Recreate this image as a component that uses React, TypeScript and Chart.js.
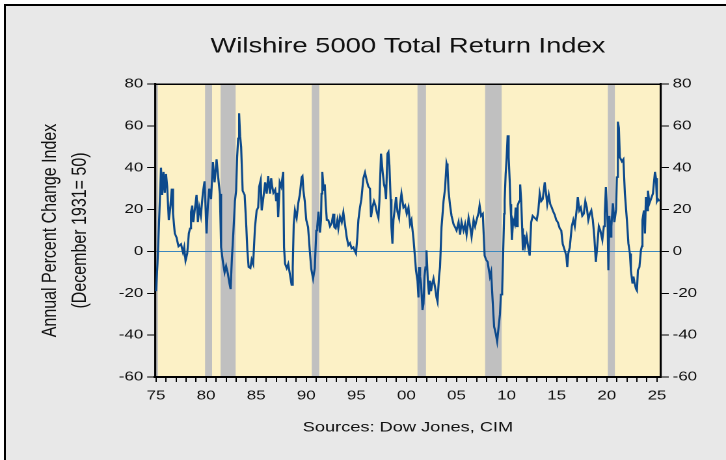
import React, { useEffect, useRef } from 'react';
import { Chart, registerables } from 'chart.js';

Chart.register(...registerables);

// ---- data: annual percent change of the Wilshire 5000 (decimal year, value) ----
const dates70s = [1975.00,1975.15,1975.30,1975.50,1975.62,1975.75,1975.88,1976.00,1976.12,1976.28,1976.42,1976.58,1976.70,1976.88,1977.05,1977.25,1977.50,1977.70,1977.82,1977.95,1978.12,1978.28,1978.40,1978.50,1978.62,1978.72,1978.85,1979.05,1979.18,1979.32,1979.48,1979.68,1979.85];
const values70s = [-19,-6,13,40,27,38,28,37,31,15,20.5,30,18,8.6,6.7,2.4,3.5,-0.5,2,-4.4,-1,8.6,11,18.9,21.9,14,19,27,14,21,17,28,33.5];

const dates80s = [1980.05,1980.18,1980.32,1980.50,1980.68,1980.85,1981.05,1981.22,1981.38,1981.50,1981.68,1981.85,1982.00,1982.18,1982.32,1982.45,1982.58,1982.72,1982.88,1983.00,1983.10,1983.20,1983.30,1983.40,1983.50,1983.65,1983.85,1984.02,1984.12,1984.25,1984.42,1984.55,1984.70,1984.88,1985.05,1985.20,1985.30,1985.45,1985.55,1985.70,1985.90,1986.05,1986.20,1986.38,1986.50,1986.60,1986.72,1986.90,1987.00,1987.10,1987.20,1987.35,1987.50,1987.70,1987.78,1987.88,1988.05,1988.20,1988.37,1988.54,1988.65,1988.75,1988.87,1989.04,1989.20,1989.37,1989.54,1989.62,1989.72,1989.85];
const values80s = [8.6,22,30,25,42.7,33,44,35,27.5,2,-5,-10,-7,-10.7,-15,-18,-3,8.7,24,29,45,54,66,55,50,29,27,11.6,0.5,-7.5,-8,-4,-6,11.6,19.6,21,31,34,19.6,25,33,27.6,36,27.6,35,31,28,29.5,24,28,16.4,33,31,38,2,-5.8,-8,-6,-11,-16,-7.5,13,19.6,16,23,27.6,35.5,36,29,24];

const dates90s = [1990.00,1990.18,1990.35,1990.50,1990.68,1990.85,1991.00,1991.10,1991.22,1991.37,1991.47,1991.52,1991.60,1991.75,1991.85,1991.95,1992.05,1992.20,1992.37,1992.54,1992.70,1992.80,1992.93,1993.10,1993.20,1993.37,1993.54,1993.70,1993.86,1994.03,1994.20,1994.36,1994.53,1994.70,1994.86,1994.96,1995.10,1995.20,1995.36,1995.50,1995.70,1995.86,1996.03,1996.20,1996.36,1996.46,1996.60,1996.76,1996.90,1997.03,1997.20,1997.30,1997.46,1997.63,1997.76,1997.86,1997.96,1998.10,1998.20,1998.30,1998.42,1998.50,1998.60,1998.70,1998.80,1998.96,1999.10,1999.26,1999.36,1999.50,1999.70,1999.86];
const values90s = [15,11.6,0.5,-8.4,-13,-8,10,12,19,9,15,27.6,38,29,32,22,15,15,12,13.5,18,11.6,11,15,11,16.5,14,18.6,13,7,3,4,1.4,2,0,-1,7,15,21,25,35,37.7,34,31,30,16.4,21,24,22,19,16,24,46.7,37.7,32,30,25,46.7,47.5,41,25,11.6,3.7,15,19,26,19,16,22.6,27.6,21,22];

const dates00s = [2000.03,2000.20,2000.36,2000.50,2000.70,2000.85,2000.95,2001.10,2001.20,2001.25,2001.36,2001.46,2001.60,2001.70,2001.80,2001.90,2002.00,2002.13,2002.25,2002.35,2002.45,2002.55,2002.70,2002.85,2003.00,2003.10,2003.25,2003.35,2003.50,2003.70,2003.85,2004.00,2004.10,2004.20,2004.35,2004.50,2004.70,2004.85,2005.00,2005.20,2005.35,2005.50,2005.70,2005.85,2006.00,2006.20,2006.35,2006.50,2006.70,2006.85,2007.00,2007.20,2007.30,2007.45,2007.62,2007.80,2007.95,2008.10,2008.33,2008.45,2008.60,2008.75,2008.90,2009.05,2009.20,2009.33,2009.43,2009.55,2009.65,2009.75,2009.80,2009.90];
const values00s = [18,21,13,15,6,-2.7,-9,-14,-22,-7.5,-12,-15.6,-28,-25,-12,-7.5,0.5,-14,-20.6,-14,-19,-16,-13,-17,-22,-24,-12,-7.5,11.6,24,30,42,40,29,22,17,13,11.6,10,14,8,14,10,13,8,16,12,7,15,12,15,18.5,22,17,18,-2,-4,-5,-12,-9.8,-23.4,-36,-39,-43,-36,-30,-20.6,-19,-1,18,24.4,37];

const dates10s = [2010.00,2010.10,2010.20,2010.30,2010.38,2010.45,2010.52,2010.65,2010.80,2010.90,2011.00,2011.10,2011.25,2011.35,2011.45,2011.55,2011.62,2011.75,2011.85,2012.00,2012.15,2012.30,2012.45,2012.60,2012.80,2013.00,2013.15,2013.30,2013.45,2013.60,2013.80,2013.90,2014.05,2014.20,2014.35,2014.50,2014.65,2014.80,2014.95,2015.10,2015.30,2015.45,2015.60,2015.80,2015.95,2016.05,2016.15,2016.30,2016.50,2016.65,2016.80,2017.00,2017.10,2017.25,2017.40,2017.55,2017.70,2017.85,2018.00,2018.15,2018.30,2018.45,2018.60,2018.75,2018.90,2019.05,2019.20,2019.35,2019.55,2019.70,2019.80,2019.90];
const values10s = [45,55.5,45,34,22.6,16,5.5,15,13,21,12,22,24,32,24,11,0.5,8,3,7,2,-2,14,17,16,15,19,27.7,24,25,33,29,22.6,27,22.6,21,19,17.5,15,14,11,10,3.5,0.5,-2,-7.5,-1,2,12,15,12,20.5,26,19.6,21,17,18,24,21,15,18,19.6,15,7,-5,3,12,10,5.5,12,18,30.8];

const dates20s = [2020.00,2020.08,2020.15,2020.25,2020.35,2020.45,2020.60,2020.75,2020.92,2021.00,2021.10,2021.20,2021.30,2021.50,2021.65,2021.80,2022.00,2022.15,2022.30,2022.40,2022.55,2022.65,2022.75,2022.90,2023.00,2023.10,2023.25,2023.40,2023.50,2023.55,2023.70,2023.80,2023.90,2024.00,2024.10,2024.25,2024.40,2024.60,2024.80,2024.90,2025.00,2025.10,2025.25];
const values20s = [21,13,-9,17,7,12,23,14,20,35.5,62,59,45,43,44,27.6,15,3.8,-1,-9,-15,-12,-14.6,-17.8,-18.7,-9,-7.5,0.5,2.5,15,19.6,8.6,26,19.6,29,23,25,27.7,38,35,24,25,24];

// recession shading (decimal years)
const recessionStarts = [1974.9, 1979.9, 1981.45, 1990.55, 2001.1, 2007.85, 2020.1];
const recessionEnds = [1975.2, 1980.6, 1982.95, 1991.3, 2001.95, 2009.5, 2020.8];

// axes
const yTickValues = [-60, -40, -20, 0, 20, 40, 60, 80];
const xFirstYear = 1975;
const xLastYear = 2025;
const xMin = 1974.9;
const xMax = 2025.4;

const TITLE = 'Wilshire 5000 Total Return Index';
const Y_TITLE = ['Annual Percent Change Index', '(December 1931= 50)'];
const SOURCE = 'Sources: Dow Jones, CIM';

const FONT = 'Arial, "Liberation Sans", Helvetica, sans-serif';
const INTERNAL_W = 558; // drawn narrower, then stretched to 726 like the reference
const CSS_W = 726;
const H = 460;

const allDates = [...dates70s, ...dates80s, ...dates90s, ...dates00s, ...dates10s, ...dates20s];
const allValues = [...values70s, ...values80s, ...values90s, ...values00s, ...values10s, ...values20s];

const backgroundPlugin = {
  id: 'plotBackground',
  beforeDraw(chart: any) {
    const { ctx, chartArea, scales } = chart;
    if (!chartArea) return;
    const { left, right, top, bottom } = chartArea;
    const x = scales.x;
    ctx.save();
    ctx.fillStyle = '#fcf1c6';
    ctx.fillRect(left, top, right - left, bottom - top);
    ctx.fillStyle = '#c0c0c0';
    recessionStarts.forEach((s, i) => {
      const x0 = Math.max(left, x.getPixelForValue(s));
      const x1 = Math.min(right, x.getPixelForValue(recessionEnds[i]));
      if (x1 > x0) ctx.fillRect(x0, top, x1 - x0, bottom - top);
    });
    ctx.restore();
  },
};

export default function App() {
  const canvasRef = useRef<HTMLCanvasElement>(null);

  useEffect(() => {
    document.body.style.margin = '0';
    const canvas = canvasRef.current;
    if (!canvas) return;
    const xTicks: number[] = [];
    for (let yr = xFirstYear; yr <= xLastYear; yr++) xTicks.push(yr);

    const chart = new Chart(canvas, {
      type: 'line',
      data: {
        datasets: [
          {
            data: allDates.map((d, i) => ({ x: d, y: allValues[i] })),
            borderColor: '#0d4a8c',
            borderWidth: 1.6,
            pointRadius: 0,
            tension: 0,
            fill: false,
            xAxisID: 'x',
            yAxisID: 'y',
          },
        ],
      },
      options: {
        animation: false,
        responsive: false,
        devicePixelRatio: 2,
        layout: { padding: 0 },
        plugins: {
          legend: { display: false },
          tooltip: { enabled: false },
          title: { display: false },
        },
        scales: {
          x: {
            type: 'linear',
            position: 'bottom',
            min: xMin,
            max: xMax,
            afterBuildTicks: (sc: any) => {
              sc.ticks = xTicks.map((v) => ({ value: v }));
            },
            afterFit: (sc: any) => {
              sc.height = 83;
            },
            ticks: {
              autoSkip: false,
              maxRotation: 0,
              minRotation: 0,
              padding: 6,
              color: '#111',
              font: { family: FONT, size: 13 },
              callback: (v: any) => (Number(v) % 5 === 0 ? String(Number(v) % 100).padStart(2, '0') : ''),
            },
            grid: { drawOnChartArea: false, drawTicks: true, tickLength: 5, tickColor: '#000', tickWidth: 1 },
            border: { display: true, color: '#000', width: 2 },
            title: {
              display: true,
              text: SOURCE,
              color: '#111',
              font: { family: FONT, size: 14 },
              padding: { top: 0, bottom: 24 },
            },
          },
          xTop: {
            type: 'linear',
            position: 'top',
            min: xMin,
            max: xMax,
            ticks: { display: false },
            grid: { display: true, drawOnChartArea: false, drawTicks: false },
            border: { display: true, color: '#000', width: 1.5 },
            title: {
              display: true,
              text: TITLE,
              color: '#111',
              font: { family: FONT, size: 21, weight: 'normal' },
              padding: { top: 34, bottom: 0 },
            },
            afterFit: (sc: any) => {
              sc.height = 84;
            },
          },
          y: {
            type: 'linear',
            position: 'left',
            min: -60,
            max: 80,
            afterBuildTicks: (sc: any) => {
              sc.ticks = yTickValues.map((v) => ({ value: v }));
            },
            afterFit: (sc: any) => {
              sc.width = 119.1;
            },
            ticks: { padding: 3, color: '#111', font: { family: FONT, size: 13 } },
            grid: {
              drawOnChartArea: true,
              color: (ctx: any) => (ctx.tick && ctx.tick.value === 0 ? '#3c87be' : 'rgba(0,0,0,0)'),
              lineWidth: 1,
              drawTicks: true,
              tickLength: 6,
              tickColor: '#000',
              tickWidth: 1,
            },
            border: { display: true, color: '#000', width: 1.6 },
            title: {
              display: true,
              text: Y_TITLE,
              color: '#111',
              font: { family: FONT, size: 16, lineHeight: 1.44 },
              padding: { top: 27, bottom: 0 },
            },
          },
          y2: {
            type: 'linear',
            position: 'right',
            min: -60,
            max: 80,
            afterBuildTicks: (sc: any) => {
              sc.ticks = yTickValues.map((v) => ({ value: v }));
            },
            afterFit: (sc: any) => {
              sc.width = 50;
            },
            ticks: { padding: 3, color: '#111', font: { family: FONT, size: 13 } },
            grid: { drawOnChartArea: false, drawTicks: true, tickLength: 6, tickColor: '#000', tickWidth: 1 },
            border: { display: true, color: '#000', width: 1.6 },
          },
        },
      } as any,
      plugins: [backgroundPlugin],
    });

    return () => chart.destroy();
  }, []);

  return (
    <div style={{ position: 'relative', width: CSS_W, height: H, background: '#fff', overflow: 'hidden' }}>
      <div
        style={{
          position: 'absolute',
          left: 4,
          top: 4,
          width: 740,
          height: 480,
          border: '2px solid #000',
          background: '#e8e8e8',
          boxSizing: 'border-box',
        }}
      />
      <canvas
        ref={canvasRef}
        width={INTERNAL_W}
        height={H}
        style={{ position: 'absolute', left: 0, top: 0, width: CSS_W + 'px', height: H + 'px' }}
      />
    </div>
  );
}
